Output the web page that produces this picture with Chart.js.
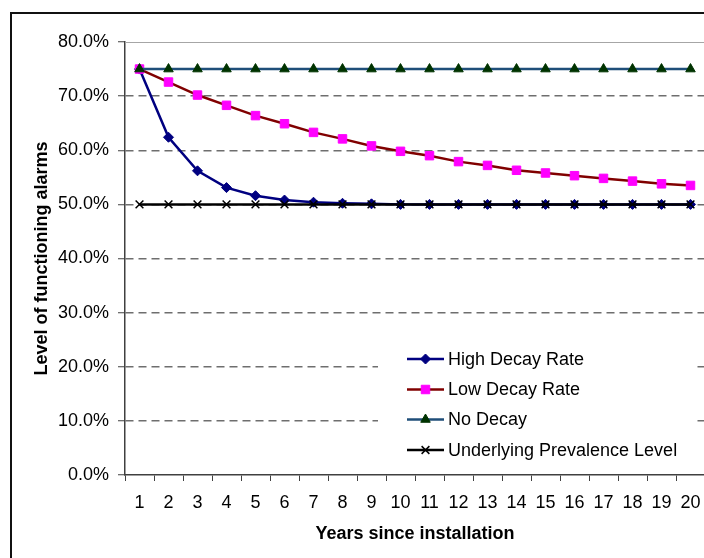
<!DOCTYPE html>
<html>
<head>
<meta charset="utf-8">
<script src="https://cdn.jsdelivr.net/npm/chart.js@4/dist/chart.umd.min.js"></script>
<style>
  html, body { margin: 0; padding: 0; background: #fff; overflow: hidden; }
  #wrap { width: 704px; height: 558px; position: relative; }
</style>
</head>
<body>
<div id="wrap"><canvas id="c" width="704" height="558"></canvas></div>
<script>
// Years since installation
const years = ['1','2','3','4','5','6','7','8','9','10','11','12','13','14','15','16','17','18','19','20'];

// Level of functioning alarms (%)
const highDecay  = [75.0, 62.4, 56.2, 53.1, 51.6, 50.8, 50.4, 50.2, 50.1, 50.0, 50.0, 50.0, 50.0, 50.0, 50.0, 50.0, 50.0, 50.0, 50.0, 50.0];
const lowDecay   = [75.0, 72.6, 70.2, 68.3, 66.4, 64.9, 63.3, 62.1, 60.8, 59.8, 59.0, 57.9, 57.2, 56.3, 55.8, 55.3, 54.8, 54.3, 53.8, 53.5];
const noDecay    = [75.0, 75.0, 75.0, 75.0, 75.0, 75.0, 75.0, 75.0, 75.0, 75.0, 75.0, 75.0, 75.0, 75.0, 75.0, 75.0, 75.0, 75.0, 75.0, 75.0];
const prevalence = [50.0, 50.0, 50.0, 50.0, 50.0, 50.0, 50.0, 50.0, 50.0, 50.0, 50.0, 50.0, 50.0, 50.0, 50.0, 50.0, 50.0, 50.0, 50.0, 50.0];

const seriesNames = ['High Decay Rate', 'Low Decay Rate', 'No Decay', 'Underlying Prevalence Level'];

// y axis range and tick step (%)
const yMin = 0, yMax = 80, yStep = 10;

const FONT = '"Liberation Sans", Arial, Helvetica, sans-serif';

// The plot area runs slightly past the right edge of the canvas
const PLOT_RIGHT = 705;

const plotAreaPlugin = {
  id: 'plotArea',
  afterLayout(chart) {
    const area = chart.chartArea;
    area.right = PLOT_RIGHT;
    area.width = PLOT_RIGHT - area.left;
    const xs = chart.scales.x;
    xs.right = PLOT_RIGHT;
    xs.width = PLOT_RIGHT - xs.left;
    xs.configure();
  }
};

// Outer frame and solid top edge of the plot area
const framePlugin = {
  id: 'frame',
  beforeDraw(chart) {
    const ctx = chart.ctx;
    ctx.save();
    ctx.fillStyle = '#fff';
    ctx.fillRect(0, 0, chart.width, chart.height);
    ctx.restore();
  },
  afterDraw(chart) {
    const ctx = chart.ctx;
    const a = chart.chartArea;
    ctx.save();
    ctx.fillStyle = '#111';
    ctx.fillRect(10, 12, chart.width, 2);
    ctx.fillRect(10, 12, 2, chart.height);
    ctx.strokeStyle = '#a6a6a6';
    ctx.lineWidth = 1;
    ctx.beginPath();
    ctx.moveTo(a.left, Math.round(a.top) + 0.5);
    ctx.lineTo(a.right, Math.round(a.top) + 0.5);
    ctx.stroke();
    ctx.restore();
  }
};

function drawMarker(ctx, style, x, y, r, fill, stroke) {
  ctx.save();
  ctx.fillStyle = fill;
  ctx.strokeStyle = stroke;
  ctx.lineWidth = 1;
  ctx.beginPath();
  if (style === 'rectRot') {
    ctx.moveTo(x, y - r); ctx.lineTo(x + r, y); ctx.lineTo(x, y + r); ctx.lineTo(x - r, y); ctx.closePath();
    ctx.fill(); ctx.stroke();
  } else if (style === 'rect') {
    const s = r * Math.SQRT1_2;
    ctx.rect(x - s, y - s, 2 * s, 2 * s);
    ctx.fill(); ctx.stroke();
  } else if (style === 'triangle') {
    ctx.moveTo(x, y - r);
    ctx.lineTo(x + r * Math.cos(Math.PI / 6), y + r / 2);
    ctx.lineTo(x - r * Math.cos(Math.PI / 6), y + r / 2);
    ctx.closePath();
    ctx.fill(); ctx.stroke();
  } else if (style === 'crossRot') {
    const d = r * Math.SQRT1_2;
    ctx.lineWidth = 1.5;
    ctx.moveTo(x - d, y - d); ctx.lineTo(x + d, y + d);
    ctx.moveTo(x + d, y - d); ctx.lineTo(x - d, y + d);
    ctx.stroke();
  }
  ctx.restore();
}

// Legend box inside the plot area
const legendPlugin = {
  id: 'insideLegend',
  afterDraw(chart) {
    const ctx = chart.ctx;
    ctx.save();
    ctx.fillStyle = '#fff';
    ctx.fillRect(378, 342, 315, 121);
    const rows = [359, 389.5, 419.5, 450];
    chart.data.datasets.forEach((ds, i) => {
      const y = rows[i];
      ctx.strokeStyle = ds.borderColor;
      ctx.lineWidth = ds.borderWidth;
      ctx.beginPath();
      ctx.moveTo(407, y);
      ctx.lineTo(444, y);
      ctx.stroke();
      drawMarker(ctx, ds.pointStyle, 425.5, y, ds.pointRadius, ds.pointBackgroundColor, ds.pointBorderColor);
      ctx.fillStyle = '#000';
      ctx.font = '18px ' + FONT;
      ctx.textBaseline = 'middle';
      ctx.textAlign = 'left';
      ctx.fillText(ds.label, 448, y + 1);
    });
    ctx.restore();
  }
};

new Chart(document.getElementById('c'), {
  type: 'line',
  data: {
    labels: years,
    datasets: [
      {
        label: seriesNames[0], data: highDecay,
        borderColor: '#000080', borderWidth: 2.5,
        pointStyle: 'rectRot', pointRadius: 5,
        pointBackgroundColor: '#000080', pointBorderColor: '#000080', pointBorderWidth: 1,
        order: 4
      },
      {
        label: seriesNames[1], data: lowDecay,
        borderColor: '#800000', borderWidth: 2.5,
        pointStyle: 'rect', pointRadius: 6,
        pointBackgroundColor: '#ff00ff', pointBorderColor: '#ff00ff', pointBorderWidth: 1,
        order: 3
      },
      {
        label: seriesNames[2], data: noDecay,
        borderColor: '#1f4e79', borderWidth: 2.5,
        pointStyle: 'triangle', pointRadius: 5.5,
        pointBackgroundColor: '#003300', pointBorderColor: '#003300', pointBorderWidth: 1,
        order: 2
      },
      {
        label: seriesNames[3], data: prevalence,
        borderColor: '#000000', borderWidth: 2.5,
        pointStyle: 'crossRot', pointRadius: 5.5,
        pointBackgroundColor: '#000000', pointBorderColor: '#000000', pointBorderWidth: 1.5,
        order: 1
      }
    ]
  },
  options: {
    responsive: false,
    animation: false,
    devicePixelRatio: 1,
    layout: { padding: { left: 0, top: 42, right: 2, bottom: 0 } },
    elements: { line: { tension: 0 } },
    plugins: {
      legend: { display: false },
      tooltip: { enabled: false }
    },
    scales: {
      x: {
        type: 'category',
        offset: true,
        grid: {
          offset: true, drawOnChartArea: false, drawTicks: true,
          tickLength: 6, tickColor: '#404040', tickWidth: 1
        },
        border: { display: true, color: '#404040', width: 1.5 },
        ticks: {
          color: '#000', padding: 11, maxRotation: 0, autoSkip: false,
          font: { family: FONT, size: 18 }
        },
        title: {
          display: true, text: 'Years since installation', color: '#000',
          font: { family: FONT, size: 18, weight: 'bold' },
          padding: { top: 0, bottom: 13 }
        },
        afterFit(scale) { scale.height = 83; }
      },
      y: {
        min: yMin, max: yMax,
        ticks: {
          stepSize: yStep, color: '#000', padding: 9,
          font: { family: FONT, size: 18 },
          callback: (v) => v.toFixed(1) + '%'
        },
        grid: {
          color: (c) => (c.tick && (c.tick.value === yMax || c.tick.value === yMin)) ? 'rgba(0,0,0,0)' : '#6e6e6e',
          lineWidth: 1.5,
          tickLength: 7, tickColor: '#404040', tickWidth: 1, tickBorderDash: []
        },
        border: { display: true, color: '#404040', width: 1.5, dash: [8, 5] },
        title: {
          display: true, text: 'Level of functioning alarms', color: '#000',
          font: { family: FONT, size: 18, weight: 'bold' },
          padding: { top: 31, bottom: 0 }
        },
        afterFit(scale) { scale.width = 125; }
      }
    }
  },
  plugins: [plotAreaPlugin, framePlugin, legendPlugin]
});
</script>
</body>
</html>
